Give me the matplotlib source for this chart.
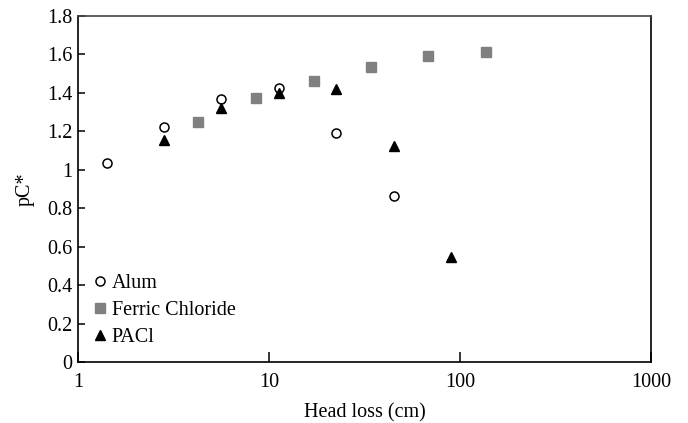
import matplotlib
matplotlib.use("Agg")
import matplotlib.pyplot as plt
from matplotlib.ticker import FixedLocator, NullLocator

plt.rcParams['font.family'] = ['Liberation Serif', 'DejaVu Serif']

# head loss (cm) and pC* per coagulant
alum_x = [1.41, 2.81, 5.63, 11.25, 22.5, 45.0]
alum_y = [1.033, 1.223, 1.369, 1.426, 1.192, 0.864]

ferric_x = [4.27, 8.54, 17.1, 34.2, 68.3, 136.7]
ferric_y = [1.246, 1.374, 1.461, 1.533, 1.589, 1.61]

pacl_x = [2.81, 5.63, 11.25, 22.5, 45.0, 90.0]
pacl_y = [1.155, 1.318, 1.398, 1.419, 1.124, 0.544]

fig = plt.figure(figsize=(6.88, 4.23), dpi=100)
ax = fig.add_axes([78 / 688, 1 - 362 / 423, (651 - 78) / 688, (362 - 15.7) / 423])

ax.plot(alum_x, alum_y, 'o', mfc='white', mec='black', mew=1.1, ms=6.5, ls='none', label='Alum')
ax.plot(ferric_x, ferric_y, 's', color='#808080', ms=7, ls='none', label='Ferric Chloride')
ax.plot(pacl_x, pacl_y, '^', color='black', ms=7.5, ls='none', label='PACl')

ax.set_xscale('log')
ax.set_xlim(1, 1000)
ax.set_ylim(0, 1.8)
ax.xaxis.set_major_locator(FixedLocator([1, 10, 100, 1000]))
ax.xaxis.set_minor_locator(NullLocator())
ax.set_xticklabels(['1', '10', '100', '1000'])
ax.set_yticks([0, 0.2, 0.4, 0.6, 0.8, 1, 1.2, 1.4, 1.6, 1.8])
ax.set_yticklabels(['0', '0.2', '0.4', '0.6', '0.8', '1', '1.2', '1.4', '1.6', '1.8'])

ax.tick_params(axis='both', direction='in', labelsize=14.5, width=1.1)
ax.tick_params(axis='x', length=7, pad=8)
ax.tick_params(axis='y', length=5, pad=4)
for s in ax.spines.values():
    s.set_linewidth(1.2)
ax.spines['top'].set_color('#444444')

ax.set_xlabel('Head loss (cm)', fontsize=14.5, labelpad=8)
ax.set_ylabel('pC*', fontsize=14.5, labelpad=9)

ax.legend(loc='lower left', frameon=False, fontsize=14.5, handlelength=0.6,
          handletextpad=0.3, labelspacing=0.4, borderaxespad=0.2,
          bbox_to_anchor=(0.006, 0.007))

fig.savefig('out.png', dpi=100)
